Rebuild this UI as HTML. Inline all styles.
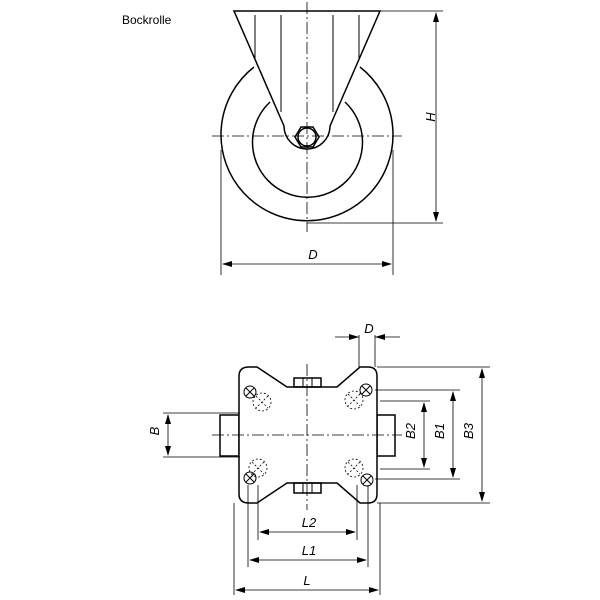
<!DOCTYPE html>
<html><head><style>body{margin:0;background:#fff}svg{display:block}text{font-family:"Liberation Sans",sans-serif;font-style:italic;font-size:13px;fill:#000}</style></head><body>
<svg width="600" height="600" viewBox="0 0 600 600" fill="none" stroke="#000" stroke-width="1.5">
<text x="122" y="24" style="font-style:normal;font-size:12px" stroke="none">Bockrolle</text>
<!-- top view -->
<path d="M254,67 A86,86 0 1 0 360,67"/>
<path d="M270,102 A55,55 0 1 0 345,102"/>
<path d="M234,11 L380,11 L330,126 A23,23 0 0 1 284,126 Z" fill="#fff"/>
<path d="M255,15V60M281,15V112M333,15V112M359,15V60" stroke-width="1"/>
<polygon points="295,137 301,127 313,127 319,137 313,147 301,147"/>
<circle cx="307" cy="137" r="9"/>
<g stroke-width="0.8"><path d="M212,136H402M307,2V232" stroke-dasharray="12,3,2,3"/>
<path d="M380,11H443M307,223H443M221,150V275M393,150V275"/>
<path d="M436,13V221M223,264H391"/></g>
<text x="431" y="121" transform="rotate(-90 431 117)" stroke="none" text-anchor="middle">H</text>
<text x="313" y="259" stroke="none" text-anchor="middle">D</text>
<!-- bottom view -->
<rect x="220" y="415" width="19" height="41"/><rect x="377" y="415" width="18" height="41"/>
<path d="M249,367 H257 L287,387 H337 L360,367 H368 Q377,367 377,376 V494 Q377,503 368,503 H360 L337,483 H287 L257,503 H249 Q239,503 239,494 V376 Q239,367 249,367 Z" fill="#fff"/>
<rect x="294" y="378" width="27" height="9"/><rect x="294" y="483" width="27" height="10"/>
<path d="M303,378V387M312,378V387M303,483V493M312,483V493" stroke-width="1"/>
<g stroke-width="1"><circle cx="250" cy="392" r="6"/><circle cx="366" cy="390" r="6"/><circle cx="250" cy="478" r="6"/><circle cx="367" cy="480" r="6"/>
<path d="M246,388l8,8M254,388l-8,8M362,386l8,8M370,386l-8,8M246,474l8,8M254,474l-8,8M363,476l8,8M371,476l-8,8"/></g>
<g stroke-width="0.8" stroke-dasharray="2,2"><circle cx="262" cy="402" r="9"/><circle cx="354" cy="400" r="9"/><circle cx="258" cy="468" r="9"/><circle cx="354" cy="468" r="9"/>
<path d="M256,396l12,12M268,396l-12,12M348,394l12,12M360,394l-12,12M252,462l12,12M264,462l-12,12M348,462l12,12M360,462l-12,12"/></g>
<g stroke-width="0.8"><path d="M212,435H402M307,364V510" stroke-dasharray="12,3,2,3"/>
<path d="M163,413H240M163,457H240M380,401H430M380,469H430M375,390H460M375,479H460M377,367H490M377,503H490M359,335V367M375,335V367M258,485V540M357,485V540M248,485V567M368,485V567M234,503V595M380,503V595M335,337H359M375,337H400"/>
<path d="M168,415V455M424,403V467M453,392V477M482,369V501M260,532H355M250,560H366M236,590H378"/></g>
<g fill="#000" stroke="none">
<polygon points="436,12 433,22 439,22"/><polygon points="436,222 433,212 439,212"/>
<polygon points="222,264 232,261 232,267"/><polygon points="392,264 382,261 382,267"/>
<polygon points="168,414 165,424 171,424"/><polygon points="168,456 165,446 171,446"/>
<polygon points="424,402 421,412 427,412"/><polygon points="424,468 421,458 427,458"/>
<polygon points="453,391 450,401 456,401"/><polygon points="453,478 450,468 456,468"/>
<polygon points="482,368 479,378 485,378"/><polygon points="482,502 479,492 485,492"/>
<polygon points="259,532 269,529 269,535"/><polygon points="356,532 346,529 346,535"/>
<polygon points="249,560 259,557 259,563"/><polygon points="367,560 357,557 357,563"/>
<polygon points="235,590 245,587 245,593"/><polygon points="379,590 369,587 369,593"/>
<polygon points="359,337 349,334 349,340"/><polygon points="375,337 385,334 385,340"/>
</g>
<g stroke="none" text-anchor="middle">
<text x="162" y="436" transform="rotate(-90 158 435)">B</text>
<text x="418" y="436" transform="rotate(-90 414 435)">B2</text>
<text x="447" y="436" transform="rotate(-90 443 435)">B1</text>
<text x="476" y="436" transform="rotate(-90 472 435)">B3</text>
<text x="369" y="333">D</text>
<text x="309" y="527">L2</text><text x="309" y="555">L1</text><text x="307" y="585">L</text></g>
</svg></body></html>
